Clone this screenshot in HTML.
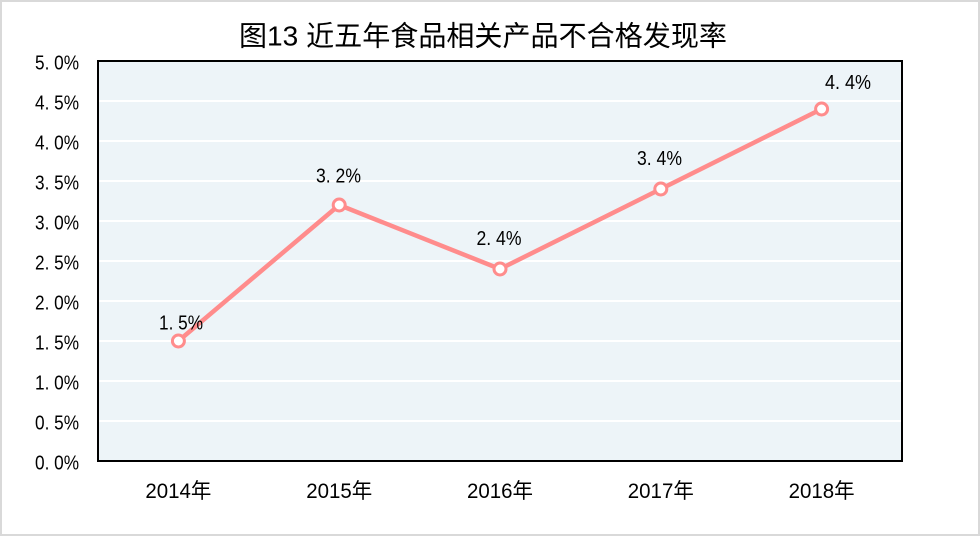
<!DOCTYPE html>
<html><head><meta charset="utf-8"><style>
html,body{margin:0;padding:0;background:#fff;}
svg{display:block;}
text{font-family:"Liberation Sans","Noto Sans CJK SC",sans-serif;fill:#000;}
</style></head><body>
<svg width="980" height="536" viewBox="0 0 980 536" xmlns="http://www.w3.org/2000/svg">
<rect x="1" y="1" width="978" height="534" fill="#fff" stroke="#d9d9d9" stroke-width="2"/>
<text x="239" y="45.5" font-size="28" textLength="488" lengthAdjust="spacingAndGlyphs">图13 近五年食品相关产品不合格发现率</text>
<rect x="98" y="61" width="804" height="400" fill="#edf4f8"/>
<g stroke="#ffffff" stroke-width="2">
<line x1="98" x2="902" y1="101" y2="101"/>
<line x1="98" x2="902" y1="141" y2="141"/>
<line x1="98" x2="902" y1="181" y2="181"/>
<line x1="98" x2="902" y1="221" y2="221"/>
<line x1="98" x2="902" y1="261" y2="261"/>
<line x1="98" x2="902" y1="301" y2="301"/>
<line x1="98" x2="902" y1="341" y2="341"/>
<line x1="98" x2="902" y1="381" y2="381"/>
<line x1="98" x2="902" y1="421" y2="421"/>
</g>
<rect x="98" y="61" width="804" height="400" fill="none" stroke="#000" stroke-width="2"/>
<g font-size="20" text-anchor="end">
<text x="79" y="69.5" textLength="44" lengthAdjust="spacingAndGlyphs">5. 0%</text>
<text x="79" y="109.5" textLength="44" lengthAdjust="spacingAndGlyphs">4. 5%</text>
<text x="79" y="149.5" textLength="44" lengthAdjust="spacingAndGlyphs">4. 0%</text>
<text x="79" y="189.5" textLength="44" lengthAdjust="spacingAndGlyphs">3. 5%</text>
<text x="79" y="229.5" textLength="44" lengthAdjust="spacingAndGlyphs">3. 0%</text>
<text x="79" y="269.5" textLength="44" lengthAdjust="spacingAndGlyphs">2. 5%</text>
<text x="79" y="309.5" textLength="44" lengthAdjust="spacingAndGlyphs">2. 0%</text>
<text x="79" y="349.5" textLength="44" lengthAdjust="spacingAndGlyphs">1. 5%</text>
<text x="79" y="389.5" textLength="44" lengthAdjust="spacingAndGlyphs">1. 0%</text>
<text x="79" y="429.5" textLength="44" lengthAdjust="spacingAndGlyphs">0. 5%</text>
<text x="79" y="469.5" textLength="44" lengthAdjust="spacingAndGlyphs">0. 0%</text>
</g>
<g font-size="21" text-anchor="middle">
<text x="178.4" y="498" textLength="66" lengthAdjust="spacingAndGlyphs">2014年</text>
<text x="339.2" y="498" textLength="66" lengthAdjust="spacingAndGlyphs">2015年</text>
<text x="500" y="498" textLength="66" lengthAdjust="spacingAndGlyphs">2016年</text>
<text x="660.8" y="498" textLength="66" lengthAdjust="spacingAndGlyphs">2017年</text>
<text x="821.6" y="498" textLength="66" lengthAdjust="spacingAndGlyphs">2018年</text>
</g>
<polyline points="178.4,341 339.2,205 500,269 660.8,189 821.6,109" fill="none" stroke="#ff8c8c" stroke-width="4.5" stroke-linejoin="round"/>
<g fill="#fff" stroke="#ff8c8c" stroke-width="3">
<circle cx="178.4" cy="341" r="6"/>
<circle cx="339.2" cy="205" r="6"/>
<circle cx="500" cy="269" r="6"/>
<circle cx="660.8" cy="189" r="6"/>
<circle cx="821.6" cy="109" r="6"/>
</g>
<g font-size="20" text-anchor="middle">
<text x="181" y="329.3" textLength="44" lengthAdjust="spacingAndGlyphs">1. 5%</text>
<text x="338.5" y="182.7" textLength="45" lengthAdjust="spacingAndGlyphs">3. 2%</text>
<text x="499" y="245.2" textLength="45" lengthAdjust="spacingAndGlyphs">2. 4%</text>
<text x="659.5" y="165.2" textLength="45" lengthAdjust="spacingAndGlyphs">3. 4%</text>
<text x="848" y="89.2" textLength="46" lengthAdjust="spacingAndGlyphs">4. 4%</text>
</g>
</svg>
</body></html>
